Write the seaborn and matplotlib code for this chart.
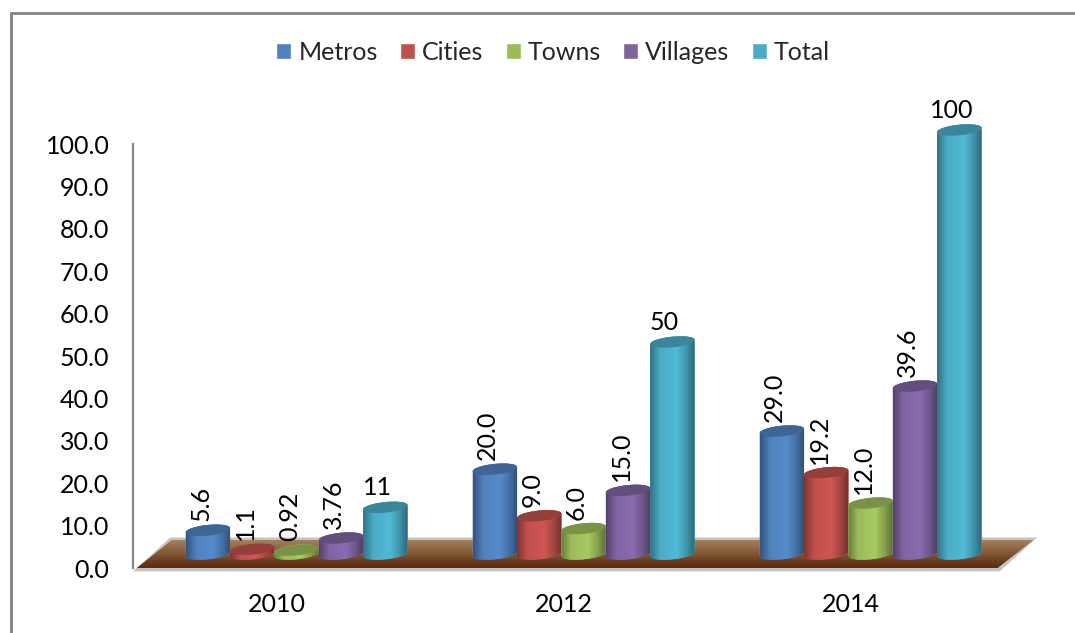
import matplotlib
matplotlib.use("Agg")
import matplotlib.pyplot as plt
import seaborn as sns
import pandas as pd
import numpy as np
from matplotlib.colors import to_rgb
from matplotlib.lines import Line2D
from matplotlib.patches import Polygon

years = ["2010", "2012", "2014"]
series = ["Metros", "Cities", "Towns", "Villages", "Total"]
metros = [5.6, 20.0, 29.0]
cities = [1.1, 9.0, 19.2]
towns = [0.92, 6.0, 12.0]
villages = [3.76, 15.0, 39.6]
total = [11, 50, 100]

metros_labels = ["5.6", "20.0", "29.0"]
cities_labels = ["1.1", "9.0", "19.2"]
towns_labels = ["0.92", "6.0", "12.0"]
villages_labels = ["3.76", "15.0", "39.6"]
total_labels = ["11", "50", "100"]

colors = ["#4F81BD", "#C0504D", "#9BBB59", "#8064A2", "#4BACC6"]

sns.set_theme(style="white")
plt.rcParams["font.family"] = ["Lato", "DejaVu Sans"]
plt.rcParams["font.size"] = 18

df = pd.DataFrame({
    "year": years * 5,
    "series": np.repeat(series, 3),
    "value": metros + cities + towns + villages + total,
})

fig = plt.figure(figsize=(10.75, 6.33), dpi=100)
ax = fig.add_axes([133 / 1075, 65 / 633, 861 / 1075, 424 / 633])

sns.barplot(data=df, x="year", y="value", hue="series", hue_order=series,
            palette=colors, saturation=1, width=0.773, gap=0, dodge=True, ax=ax)

BASE = 3.3        # bars stand on the floor, not on the axis
SHIFT = 0.07      # sideways 3d offset
RY = 1.25         # ellipse half height, data units
SKEW = 6.5        # tilt of the ellipses


def bar_gradient(color):
    stops = np.interp(np.linspace(0, 1, 64), [0, 0.22, 0.6, 0.82, 1], [0.66, 1.0, 1.08, 0.86, 0.6])
    return np.clip(stops[None, :, None] * np.array(to_rgb(color)), 0, 1)


# floor of the 3d chart
ax.add_patch(Polygon([(-0.5, -0.8), (-0.37, 7.2), (2.65, 7.2), (2.52, -0.8)], closed=True,
                     facecolor="#c4c4c4", edgecolor="none", clip_on=False, zorder=1.5))
floor = Polygon([(-0.486, 0), (-0.364, 6.6), (2.636, 6.6), (2.512, 0)], closed=True,
                facecolor="#7d4a22", edgecolor="none", clip_on=False, zorder=1.6)
ax.add_patch(floor)
mix = np.interp(np.linspace(0, 1, 64), [0, 0.5, 0.85, 1], [0, 0.5, 0.9, 1])[:, None, None]
floor_img = np.array(to_rgb("#a5805c")) * (1 - mix) + np.array(to_rgb("#5c2c0e")) * mix
im = ax.imshow(floor_img, extent=(-0.5, 2.65, 0, 6.6), origin="upper", aspect="auto", zorder=1.7)
im.set_clip_box(fig.bbox)
im.set_clip_path(floor)

all_labels = [metros_labels, cities_labels, towns_labels, villages_labels, total_labels]
t = np.linspace(0, 2 * np.pi, 80)
z = 3.0
for container, color, labels in zip(ax.containers, colors, all_labels):
    for bar, label in zip(container, labels):
        h = bar.get_height()
        bar.set_x(bar.get_x() + SHIFT)
        bar.set_y(BASE)
        cx = bar.get_x() + bar.get_width() / 2
        rx = bar.get_width() / 2
        top = BASE + h

        # lower half of the base ellipse, upper half of the top ellipse
        low_t = np.linspace(np.pi, 2 * np.pi, 40)
        up_t = np.linspace(0, np.pi, 40)
        xs = np.r_[cx + rx * np.cos(low_t), cx + rx * np.cos(up_t)]
        ys = np.r_[BASE + RY * np.sin(low_t) + SKEW * rx * np.cos(low_t),
                   top + RY * np.sin(up_t) + SKEW * rx * np.cos(up_t)]
        body = Polygon(np.c_[xs, ys], closed=True, facecolor=color, edgecolor="none",
                       clip_on=False, zorder=z)
        ax.add_patch(body)
        bar.set_zorder(z)
        bar.set_clip_box(fig.bbox)
        bar.set_clip_path(body)

        bim = ax.imshow(bar_gradient(color), extent=(cx - rx, cx + rx, BASE - 3, top + 3),
                        aspect="auto", zorder=z + 0.1)
        bim.set_clip_box(fig.bbox)
        bim.set_clip_path(body)

        cap_x = cx + rx * np.cos(t)
        cap_y = top + RY * np.sin(t) + SKEW * rx * np.cos(t)
        cap_col = np.array(to_rgb(color)) * 0.78
        ax.add_patch(Polygon(np.c_[cap_x, cap_y], closed=True, facecolor=cap_col, edgecolor="none",
                             clip_on=False, zorder=z + 0.2))
        z += 1

        if color == colors[-1]:
            ax.annotate(label, (cx, top), xytext=(-8, 8), textcoords="offset pixels",
                        ha="center", va="bottom", color="black", fontsize=18, zorder=50,
                        annotation_clip=False)
        else:
            ax.annotate(label, (cx, top), xytext=(-7, 9), textcoords="offset pixels",
                        ha="center", va="bottom", rotation=90, color="black", fontsize=18, zorder=50,
                        annotation_clip=False)

ax.set_xlim(-0.5, 2.5)
ax.set_ylim(0, 100)
ax.set_aspect("auto")
ax.set_yticks(np.arange(0, 101, 10))
ax.set_yticklabels([f"{v:.1f}" for v in np.arange(0, 101, 10)])
ax.set_xlabel("")
ax.set_ylabel("")
ax.tick_params(axis="y", length=0, pad=17, labelsize=18, labelcolor="black")
ax.tick_params(axis="x", length=0, pad=18, labelsize=18, labelcolor="black")
ax.patch.set_visible(False)
sns.despine(ax=ax, top=True, right=True, bottom=True)
ax.spines["left"].set_color("#8a8a8a")
ax.spines["left"].set_linewidth(1.6)

sns.move_legend(ax, "center", bbox_to_anchor=(553 / 1075, 1 - 52 / 633), bbox_transform=fig.transFigure,
                ncol=5, frameon=False, title=None, fontsize=18, handlelength=0.6, handleheight=0.6,
                handletextpad=0.28, columnspacing=0.89, borderpad=0)

# gray frame round the picture
for xd, yd in [((10.5, 10.5), (633, 12.5)), ((10.5, 1075), (12.5, 12.5))]:
    fig.add_artist(Line2D([x / 1075 for x in xd], [1 - y / 633 for y in yd], color="#868686", lw=2.1))

fig.savefig("out.png", dpi=100)
